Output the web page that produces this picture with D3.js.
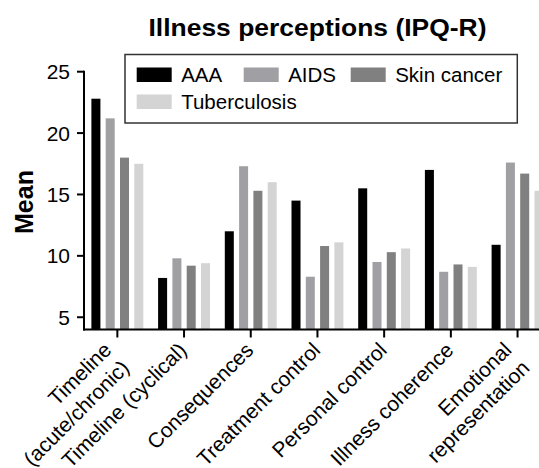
<!DOCTYPE html>
<html>
<head>
<meta charset="utf-8">
<script src="https://cdn.jsdelivr.net/npm/d3@7"></script>
<style>
body { margin: 0; background: #fff; }
text { font-family: "Liberation Sans", Arial, Helvetica, sans-serif; fill: #000; }
</style>
</head>
<body>
<svg width="539" height="468"></svg>
<script>
// data
var categories = [["Timeline", "(acute/chronic)"], ["Timeline (cyclical)"], ["Consequences"],
  ["Treatment control"], ["Personal control"], ["Illness coherence"], ["Emotional", "representation"]];
var seriesNames = ["AAA", "AIDS", "Skin cancer", "Tuberculosis"];
var seriesColors = ["#000000", "#a0a0a4", "#808080", "#d4d4d4"];
var aaa = [22.8, 8.2, 12.0, 14.5, 15.5, 17.0, 10.9];
var aids = [21.2, 9.8, 17.3, 8.3, 9.5, 8.7, 17.6];
var skinCancer = [18.0, 9.2, 15.3, 10.8, 10.3, 9.3, 16.7];
var tuberculosis = [17.5, 9.4, 16.0, 11.1, 10.6, 9.1, 15.3];
var yTicks = [5, 10, 15, 20, 25];

var series = [aaa, aids, skinCancer, tuberculosis];

var svg = d3.select("svg");

var plotLeft = 84, plotBottom = 329.5, plotTop = 71.7;
var step = 66.7;

var x0 = d3.scaleBand().
domain(d3.range(categories.length)).
range([plotLeft, plotLeft + step * categories.length]).
padding(0);

var groupW = 51.9;
var x1 = d3.scaleBand().
domain(d3.range(seriesNames.length)).
range([0, groupW]).
paddingInner(0.37).
paddingOuter(0);

var y = d3.scaleLinear().
domain([4, 25]).
range([plotBottom, plotTop]);

// title
svg.append("text").
attr("x", 317.5).
attr("y", 35.7).
attr("text-anchor", "middle").
attr("textLength", 338).
attr("lengthAdjust", "spacingAndGlyphs").
style("font-size", "24px").
style("font-weight", "bold").
text("Illness perceptions (IPQ-R)");

// bars
var groups = svg.append("g").selectAll("g").
data(categories.map(function (c, i) {return i;})).
enter().append("g").
attr("transform", function (i) {return "translate(" + (x0(i) + (step - groupW) / 2) + ",0)";});

groups.selectAll("rect").
data(function (i) {return series.map(function (s, k) {return {k: k, v: s[i]};});}).
enter().append("rect").
attr("x", function (d) {return x1(d.k);}).
attr("width", x1.bandwidth()).
attr("y", function (d) {return y(d.v);}).
attr("height", function (d) {return y(4) - y(d.v);}).
attr("fill", function (d) {return seriesColors[d.k];});

// y axis
var yAxis = svg.append("g").attr("transform", "translate(" + plotLeft + ",0)");
yAxis.append("line").
attr("x1", 0).attr("x2", 0).
attr("y1", y(25) - 1).attr("y2", plotBottom + 1).
attr("stroke", "#000").attr("stroke-width", 2);
yAxis.selectAll(".tk").data(yTicks).enter().append("line").
attr("x1", -7).attr("x2", 0).
attr("y1", function (d) {return y(d);}).attr("y2", function (d) {return y(d);}).
attr("stroke", "#000").attr("stroke-width", 2);
yAxis.selectAll(".lb").data(yTicks).enter().append("text").
attr("x", -14).
attr("y", function (d) {return y(d);}).
attr("dy", "0.36em").
attr("text-anchor", "end").
style("font-size", "21px").
text(function (d) {return d;});

svg.append("text").
attr("transform", "translate(33,202) rotate(-90)").
attr("text-anchor", "middle").
style("font-size", "25px").
style("font-weight", "bold").
text("Mean");

// x axis
svg.append("line").
attr("x1", plotLeft - 1).attr("x2", 560).
attr("y1", plotBottom).attr("y2", plotBottom).
attr("stroke", "#000").attr("stroke-width", 2);

svg.append("g").selectAll("line").
data(categories.map(function (c, i) {return i;})).
enter().append("line").
attr("x1", function (i) {return x0(i) + step / 2;}).
attr("x2", function (i) {return x0(i) + step / 2;}).
attr("y1", plotBottom).attr("y2", plotBottom + 8).
attr("stroke", "#000").attr("stroke-width", 2);

var labels = svg.append("g").selectAll("text").
data(categories).
enter().append("text").
attr("transform", function (c, i) {
  return "translate(" + (x0(i) + step / 2 + 4) + "," + (plotBottom + 22) + ") rotate(-45)";
}).
attr("text-anchor", "end").
style("font-size", "21px");

labels.selectAll("tspan").
data(function (c) {return c.map(function (t, j) {return {t: t, j: j, n: c.length};});}).
enter().append("tspan").
attr("x", function (d) {return d.n == 1 ? 0 : -6;}).
attr("dy", function (d) {return d.n == 1 ? 0 : (d.j == 0 ? "-0.3em" : "1.2em");}).
text(function (d) {return d.t;});

// legend
var legend = svg.append("g").attr("transform", "translate(125,54.5)");
legend.append("rect").
attr("width", 392.3).attr("height", 68.5).
attr("fill", "#fff").attr("stroke", "#333").attr("stroke-width", 1.5);

var items = legend.selectAll("g").
data(seriesNames).
enter().append("g").
attr("transform", function (d, i) {
  return "translate(" + (11.7 + (i % 3) * 107) + "," + (13 + Math.floor(i / 3) * 27) + ")";
});
items.append("rect").
attr("width", 35).attr("height", 14.5).
attr("fill", function (d, i) {return seriesColors[i];});
items.append("text").
attr("x", 44.5).attr("y", 14.5).
style("font-size", "20.5px").
text(function (d) {return d;});
</script>
</body>
</html>
